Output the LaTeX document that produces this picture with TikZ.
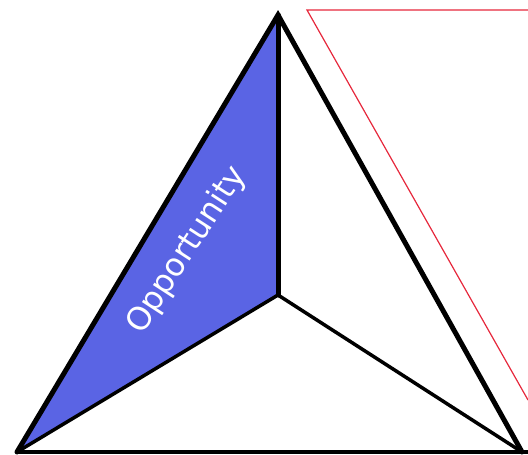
\documentclass[tikz,border=0pt]{standalone}
\usepackage{fontspec}
\newfontfamily\labelfont{DejaVu Sans}
\definecolor{oppblue}{RGB}{90,100,228}
\definecolor{redline}{RGB}{230,40,60}
\begin{document}
\begin{tikzpicture}[x=1pt,y=-1pt,
  outer/.style={line width=5pt,line join=miter,line cap=round},
  inner/.style={line width=3.5pt,line cap=round},
  thin/.style={draw=redline,line width=1.2pt}]
\useasboundingbox (0,0) rectangle (528,455);
\coordinate (top) at (278,15);
\coordinate (bl) at (17,452);
\coordinate (br) at (522,452);
\coordinate (c) at (278,295);
\coordinate (r1) at (307,10);
\coordinate (r2) at (528,10);
\coordinate (r3) at (528,400);
\fill[oppblue] (top) -- (bl) -- (c) -- cycle;
\draw[thin] (r2) -- (r1) -- (r3);
\draw[inner] (bl) -- (c) -- (br);
\draw[outer] (c) -- (top);
\draw[outer] (bl) -- (top) -- (br);
\draw[inner] (bl) -- (528,452);
\node[text=white,font=\labelfont\fontsize{32}{38}\selectfont,rotate=57,inner sep=0pt] (opp) at (187,250) {Opportunity};
\end{tikzpicture}
\end{document}
